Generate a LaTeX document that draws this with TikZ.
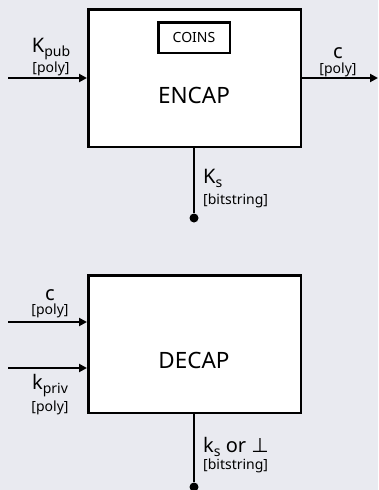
\documentclass[tikz,border=0pt]{standalone}
\usepackage{fontspec}
\setmainfont{Noto Sans}
\newfontfamily\symfont{DejaVu Sans}
\usetikzlibrary{arrows.meta,positioning}
\definecolor{kembg}{RGB}{233,234,240}
\newcommand{\keysub}[1]{\raisebox{-4pt}{\fontsize{14}{14}\selectfont #1}}

\begin{document}
\begin{tikzpicture}[x=1pt, y=-1pt,
  block/.style={draw, line width=2.5pt, fill=white, minimum width=212.5pt, minimum height=137.5pt, inner sep=0pt},
  tag/.style={draw, line width=2.5pt, fill=white, minimum width=71.5pt, minimum height=30.5pt, inner sep=0pt, font=\fontsize{14}{14}\selectfont},
  bigtext/.style={inner sep=0pt, font=\fontsize{20}{20}\selectfont},
  titletext/.style={inner sep=0pt, font=\fontsize{22.5}{22.5}\selectfont},
  smalltext/.style={inner sep=0pt, font=\fontsize{14}{14}\selectfont},
  wire/.style={line width=2.5pt, -{Triangle[length=8pt,width=8pt]}},
  tap/.style={circle, fill, inner sep=0pt, minimum size=9pt}]
\fill[kembg] (0,0) rectangle (378,490);
\useasboundingbox (0,0) rectangle (378,490);
% encapsulation
\node[block] (encap) at (194.5,78) {};
\node[tag] (coins) at (194,37.5) {COINS};
\node[titletext, anchor=base] (encaplbl) at (194,103) {ENCAP};
\coordinate (kpubin) at (8,78);
\coordinate (cout) at (378,78);
\draw[wire] (kpubin) -- (encap.west);
\draw[wire] (encap.east) -- (cout);
\node[bigtext, anchor=base] (kpub) at (51,52) {K\keysub{pub}};
\node[smalltext, anchor=base] (kpubtype) at (51,72) {[poly]};
\node[bigtext, anchor=base] (cenc) at (338,58.5) {c};
\node[smalltext, anchor=base] (cenctype) at (338,73) {[poly]};
\node[tap] (ksdot) at (194,218) {};
\draw[line width=2.5pt] (ksdot |- encap.south) -- (ksdot);
\node[bigtext, anchor=base west] (ks) at (203,183) {K\keysub{s}};
\node[smalltext, anchor=base west] (kstype) at (203,204) {[bitstring]};
% decapsulation
\node[block] (decap) at (194.5,344) {};
\node[titletext, anchor=base] (decaplbl) at (194,368) {DECAP};
\coordinate (cin) at (8,322);
\coordinate (kprivin) at (8,368);
\draw[wire] (cin) -- (cin -| decap.west);
\draw[wire] (kprivin) -- (kprivin -| decap.west);
\node[bigtext, anchor=base] (cdec) at (50,300) {c};
\node[smalltext, anchor=base] (cdectype) at (50,314.5) {[poly]};
\node[bigtext, anchor=base] (kpriv) at (50,389) {k\keysub{priv}};
\node[smalltext, anchor=base] (kprivtype) at (50,411) {[poly]};
\node[tap] (kdot) at (194,487) {};
\draw[line width=2.5pt] (kdot |- decap.south) -- (kdot);
\node[bigtext, anchor=base west] (kout) at (203,452) {k\keysub{s} or {\symfont ⊥}};
\node[smalltext, anchor=base west] (kouttype) at (203,469.5) {[bitstring]};
\end{tikzpicture}
\end{document}
